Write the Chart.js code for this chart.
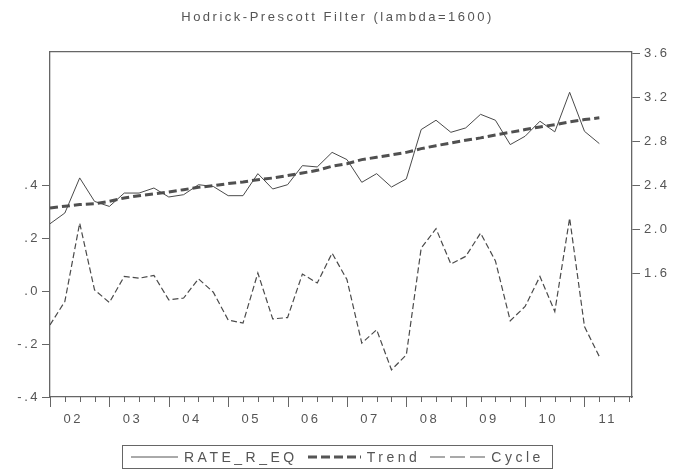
<!DOCTYPE html>
<html>
<head>
<meta charset="utf-8">
<script src="https://cdn.jsdelivr.net/npm/chart.js@4.4.1/dist/chart.umd.min.js"></script>
<style>
  body { margin: 0; background: #fff; }
  #wrap { position: relative; width: 675px; height: 471px; }
  #legend {
    position: absolute; left: 122px; top: 445px; width: 431px; height: 24px;
    border: 1px solid #666; box-sizing: border-box;
    display: flex; align-items: center; padding-left: 8px;
    font-family: 'Liberation Sans', Arial, sans-serif; font-size: 14px;
    letter-spacing: 3.5px; color: #555; white-space: nowrap;
  }
  #legend span.item { display: flex; align-items: center; margin-right: 10px; }
  #legend svg { margin-right: 6px; }
</style>
</head>
<body>
<div id="wrap">
  <canvas id="hpChart" width="675" height="471"></canvas>
  <div id="legend"></div>
</div>
<script>
const quarters = [
    '2002Q1', '2002Q2', '2002Q3', '2002Q4', '2003Q1', '2003Q2', '2003Q3', '2003Q4',
    '2004Q1', '2004Q2', '2004Q3', '2004Q4', '2005Q1', '2005Q2', '2005Q3', '2005Q4',
    '2006Q1', '2006Q2', '2006Q3', '2006Q4', '2007Q1', '2007Q2', '2007Q3', '2007Q4',
    '2008Q1', '2008Q2', '2008Q3', '2008Q4', '2009Q1', '2009Q2', '2009Q3', '2009Q4',
    '2010Q1', '2010Q2', '2010Q3', '2010Q4', '2011Q1', '2011Q2'
];
const rateValues = [
    2.05, 2.148, 2.468, 2.254, 2.208, 2.33, 2.33, 2.376, 2.294, 2.315,
    2.406, 2.39, 2.306, 2.306, 2.507, 2.367, 2.406, 2.58, 2.568, 2.701,
    2.635, 2.428, 2.507, 2.385, 2.459, 2.909, 2.994, 2.884, 2.924, 3.048,
    2.994, 2.772, 2.848, 2.985, 2.888, 3.249, 2.893, 2.781
];
const trendValues = [
    2.194, 2.21, 2.225, 2.233, 2.254, 2.285, 2.306, 2.322, 2.34, 2.361,
    2.382, 2.397, 2.416, 2.431, 2.452, 2.467, 2.489, 2.513, 2.537, 2.575,
    2.598, 2.635, 2.656, 2.678, 2.701, 2.735, 2.762, 2.787, 2.811, 2.833,
    2.86, 2.884, 2.909, 2.933, 2.954, 2.979, 3.0, 3.016
];
const cycleValues = [
    -0.127, -0.038, 0.259, 0.006, -0.042, 0.057, 0.05, 0.061, -0.032, -0.025,
    0.048, -0.003, -0.108, -0.12, 0.07, -0.104, -0.099, 0.066, 0.032, 0.145,
    0.045, -0.196, -0.145, -0.297, -0.24, 0.164, 0.238, 0.104, 0.133, 0.221,
    0.116, -0.111, -0.057, 0.057, -0.076, 0.278, -0.133, -0.247
];
const yearLabels = ['02', '03', '04', '05', '06', '07', '08', '09', '10', '11'];
const leftTicks = [-0.4, -0.2, 0, 0.2, 0.4];
const rightTicks = [1.6, 2.0, 2.4, 2.8, 3.2, 3.6];

const INK = '#555';
const AXIS = '#666';
const FONT = { family: "'Liberation Sans', Arial, sans-serif", size: 13 };

// "2002Q3" -> 2002.5
const toX = q => +q.slice(0, 4) + (+q.slice(5) - 1) / 4;
const points = vals => vals.map((v, i) => ({ x: toX(quarters[i]), y: v }));

// the original's lettering is wide, so space the canvas text out
const wideText = {
    id: 'wideText',
    beforeLayout(chart) { chart.ctx.letterSpacing = '2.5px'; },
    beforeDraw(chart) { chart.ctx.letterSpacing = '2.5px'; }
};

const frame = {
    id: 'frame',
    afterDraw(chart) {
        const { ctx, chartArea: a, scales: { x } } = chart;
        ctx.save();
        ctx.strokeStyle = AXIS;
        ctx.lineWidth = 1.3;
        ctx.beginPath();
        ctx.moveTo(a.left, a.top);
        ctx.lineTo(a.right, a.top);
        ctx.stroke();
        // quarter tick marks, longer at each new year
        ctx.lineWidth = 1;
        for (let t = x.min; t <= x.max + 1e-9; t += 0.25) {
            const px = Math.round(x.getPixelForValue(t)) + 0.5;
            const len = Math.abs(t - Math.round(t)) < 1e-6 ? 10 : 5;
            ctx.beginPath();
            ctx.moveTo(px, a.bottom);
            ctx.lineTo(px, a.bottom + len);
            ctx.stroke();
        }
        ctx.restore();
    }
};

const fmtLeft = v => {
    const s = Math.abs(v).toFixed(1).replace(/^0/, '');
    return (v < -1e-9 ? '-' : '') + s;
};

new Chart(document.getElementById('hpChart').getContext('2d'), {
    type: 'line',
    data: {
        datasets: [{
            label: 'RATE_R_EQ',
            data: points(rateValues),
            yAxisID: 'yR',
            borderColor: '#4a4a4a',
            borderWidth: 1,
            pointRadius: 0,
            tension: 0
        }, {
            label: 'Trend',
            data: points(trendValues),
            yAxisID: 'yR',
            borderColor: '#505050',
            borderWidth: 3,
            borderDash: [8, 4],
            pointRadius: 0,
            tension: 0
        }, {
            label: 'Cycle',
            data: points(cycleValues),
            yAxisID: 'yL',
            borderColor: '#4a4a4a',
            borderWidth: 1.2,
            borderDash: [6, 3],
            pointRadius: 0,
            tension: 0
        }]
    },
    options: {
        responsive: false,
        animation: false,
        layout: { padding: 0 },
        plugins: {
            legend: { display: false },
            tooltip: { enabled: false },
            title: {
                display: true,
                text: 'Hodrick-Prescott Filter (lambda=1600)',
                color: INK,
                font: { ...FONT, weight: 'normal' },
                padding: { top: 10, bottom: 26 }
            }
        },
        scales: {
            x: {
                type: 'linear',
                min: 2002,
                max: 2011.8,
                afterBuildTicks: s => { s.ticks = yearLabels.map((l, i) => ({ value: 2002 + i + 0.39 })); },
                afterFit: s => { s.height = 74; },
                ticks: {
                    callback: (v, i) => yearLabels[i],
                    color: INK, font: FONT, padding: 15,
                    maxRotation: 0, autoSkip: false
                },
                grid: { drawOnChartArea: false, drawTicks: false },
                border: { color: AXIS, width: 1.3 }
            },
            yL: {
                position: 'left',
                min: -0.4,
                max: 0.909,
                afterBuildTicks: s => { s.ticks = leftTicks.map(v => ({ value: v })); },
                afterFit: s => { s.width = 50; },
                ticks: { callback: v => fmtLeft(v), color: INK, font: FONT, padding: 2 },
                grid: { drawOnChartArea: false, tickLength: 8, tickColor: AXIS },
                border: { color: AXIS, width: 1.3 }
            },
            yR: {
                position: 'right',
                min: 0.47,
                max: 3.62,
                afterBuildTicks: s => { s.ticks = rightTicks.map(v => ({ value: v })); },
                afterFit: s => { s.width = 43; },
                ticks: { callback: v => v.toFixed(1), color: INK, font: FONT, padding: 4 },
                grid: { drawOnChartArea: false, tickLength: 8, tickColor: AXIS },
                border: { color: AXIS, width: 1.3 }
            }
        }
    },
    plugins: [wideText, frame]
});

// legend with line samples
const legendItems = [
    { text: 'RATE_R_EQ', len: 47, width: 1, dash: '' },
    { text: 'Trend', len: 53, width: 3, dash: '9 4' },
    { text: 'Cycle', len: 55, width: 1.2, dash: '15 5' }
];
document.getElementById('legend').innerHTML = legendItems.map(it =>
    '<span class="item"><svg width="' + it.len + '" height="6"><line x1="0" y1="3" x2="' + it.len +
    '" y2="3" stroke="#555" stroke-width="' + it.width + '" stroke-dasharray="' + it.dash + '"/></svg>' +
    it.text + '</span>'
).join('');
</script>
</body>
</html>
